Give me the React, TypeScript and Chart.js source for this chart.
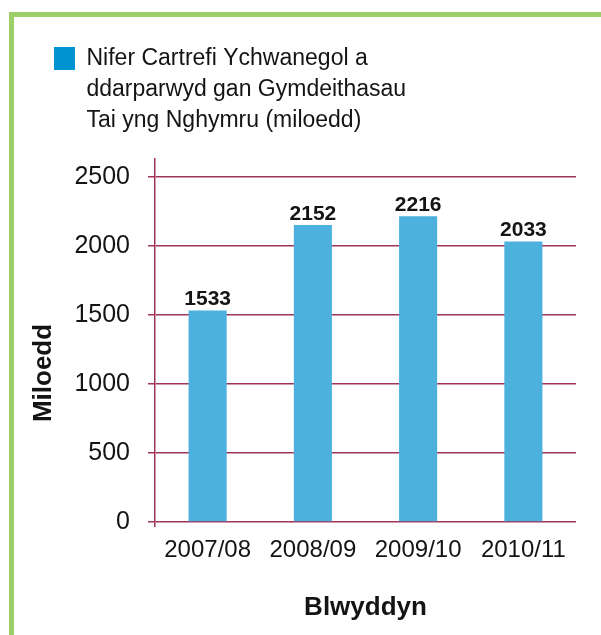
import React, { useEffect, useRef } from "react";
import { Chart, registerables } from "chart.js";

Chart.register(...registerables);

// ---- data ----
const CATEGORIES = ["2007/08", "2008/09", "2009/10", "2010/11"];
const VALUES = [1533, 2152, 2216, 2033];
const Y_TICKS = [0, 500, 1000, 1500, 2000, 2500];
const LEGEND_LINES = [
  "Nifer Cartrefi Ychwanegol a",
  "ddarparwyd gan Gymdeithasau",
  "Tai yng Nghymru (miloedd)",
];
const Y_TITLE = "Miloedd";
const X_TITLE = "Blwyddyn";

// ---- styles ----
const FONT = '"Liberation Sans", Arial, Helvetica, sans-serif';
const BAR_COLOR = "#4DB1DE";
const LEGEND_BOX = "#0093D1";
const GRID = "#A0345A";
const TEXT = "#141414";
const GREEN = "#9CCF68";

const valueLabels = {
  id: "valueLabels",
  beforeDraw(chart: any) {
    // let the multi-line legend text extend down to the plot area (avoid clipping)
    const lg = chart.legend;
    if (lg && chart.chartArea) lg.bottom = Math.max(lg.bottom, chart.chartArea.top);
  },
  afterDatasetsDraw(chart: any) {
    const ctx = chart.ctx;
    const meta = chart.getDatasetMeta(0);
    ctx.save();
    ctx.font = `bold 21px ${FONT}`;
    ctx.fillStyle = TEXT;
    ctx.textAlign = "center";
    ctx.textBaseline = "alphabetic";
    meta.data.forEach((bar: any, i: number) => {
      ctx.fillText(String(VALUES[i]), bar.x, bar.y - 5);
    });
    ctx.restore();
  },
};

export default function App() {
  const ref = useRef<HTMLCanvasElement | null>(null);

  useEffect(() => {
    if (!ref.current) return;
    const chart = new Chart(ref.current, {
      type: "bar",
      data: {
        labels: CATEGORIES,
        datasets: [
          {
            label: LEGEND_LINES.join(" "),
            data: VALUES,
            backgroundColor: BAR_COLOR,
            borderWidth: 0,
            barPercentage: 0.362,
            categoryPercentage: 1.0,
          },
        ],
      },
      plugins: [valueLabels],
      options: {
        responsive: false,
        animation: false,
        devicePixelRatio: 1,
        events: [],
        layout: { padding: { top: 17, left: 24, right: 25, bottom: 0 } },
        plugins: {
          tooltip: { enabled: false },
          legend: {
            display: true,
            position: "top",
            align: "start",
            labels: {
              boxWidth: 21,
              boxHeight: 23,
              padding: 30,
              color: TEXT,
              font: { family: FONT, size: 23, lineHeight: 1.35 },
              generateLabels: (c: any) => {
                const items = (Chart as any).defaults.plugins.legend.labels.generateLabels(c);
                return items.map((it: any) => ({
                  ...it,
                  text: LEGEND_LINES,
                  fillStyle: LEGEND_BOX,
                  strokeStyle: LEGEND_BOX,
                  lineWidth: 0,
                }));
              },
            },
          },
          subtitle: {
            display: true,
            text: "",
            weight: 500,
            padding: { top: 0, bottom: 69 },
            font: { size: 10, lineHeight: 1 },
          } as any,
        },
        scales: {
          x: {
            offset: true,
            grid: {
              display: true,
              offset: true,
              drawOnChartArea: false,
              drawTicks: true,
              tickLength: 5,
              lineWidth: 1.5,
              color: (ctx: any) => (ctx.index === 0 ? GRID : "rgba(0,0,0,0)"),
            },
            border: { display: false },
            ticks: {
              color: TEXT,
              font: { family: FONT, size: 24, lineHeight: 1.2 },
              padding: 9,
              maxRotation: 0,
              autoSkip: false,
            },
            title: {
              display: true,
              text: X_TITLE,
              color: TEXT,
              font: { family: FONT, size: 26, weight: "bold", lineHeight: 1 },
              padding: { top: 0, bottom: 14.5 },
            },
            afterFit: (scale: any) => {
              scale.height = 113;
            },
          },
          y: {
            min: 0,
            max: 2630,
            ticks: {
              stepSize: 500,
              color: TEXT,
              font: { family: FONT, size: 25, lineHeight: 1.2 },
              padding: 18,
              callback: (v: any) => String(v),
            },
            afterBuildTicks: (scale: any) => {
              scale.ticks = Y_TICKS.map((v) => ({ value: v }));
            },
            grid: {
              color: GRID,
              lineWidth: 1.5,
              drawTicks: true,
              tickLength: 7,
            },
            border: { display: true, color: GRID, width: 1.5 },
            title: {
              display: true,
              text: Y_TITLE + "         ",
              color: TEXT,
              font: { family: FONT, size: 26, weight: "bold", lineHeight: 1 },
              padding: { top: 7, bottom: 0 },
            },
            afterFit: (scale: any) => {
              scale.width = 131;
            },
          },
        },
      } as any,
    });
    return () => chart.destroy();
  }, []);

  return (
    <div
      style={{
        position: "fixed",
        left: 0,
        top: 0,
        width: 601,
        height: 635,
        overflow: "hidden",
        background: "#ffffff",
      }}
    >
      <div
        style={{
          position: "absolute",
          left: 9,
          top: 12,
          width: 700,
          height: 700,
          borderTop: `5px solid ${GREEN}`,
          borderLeft: `5px solid ${GREEN}`,
        }}
      />
      <canvas
        ref={ref}
        width={601}
        height={635}
        style={{ position: "absolute", left: 0, top: 0, width: 601, height: 635 }}
      />
    </div>
  );
}
